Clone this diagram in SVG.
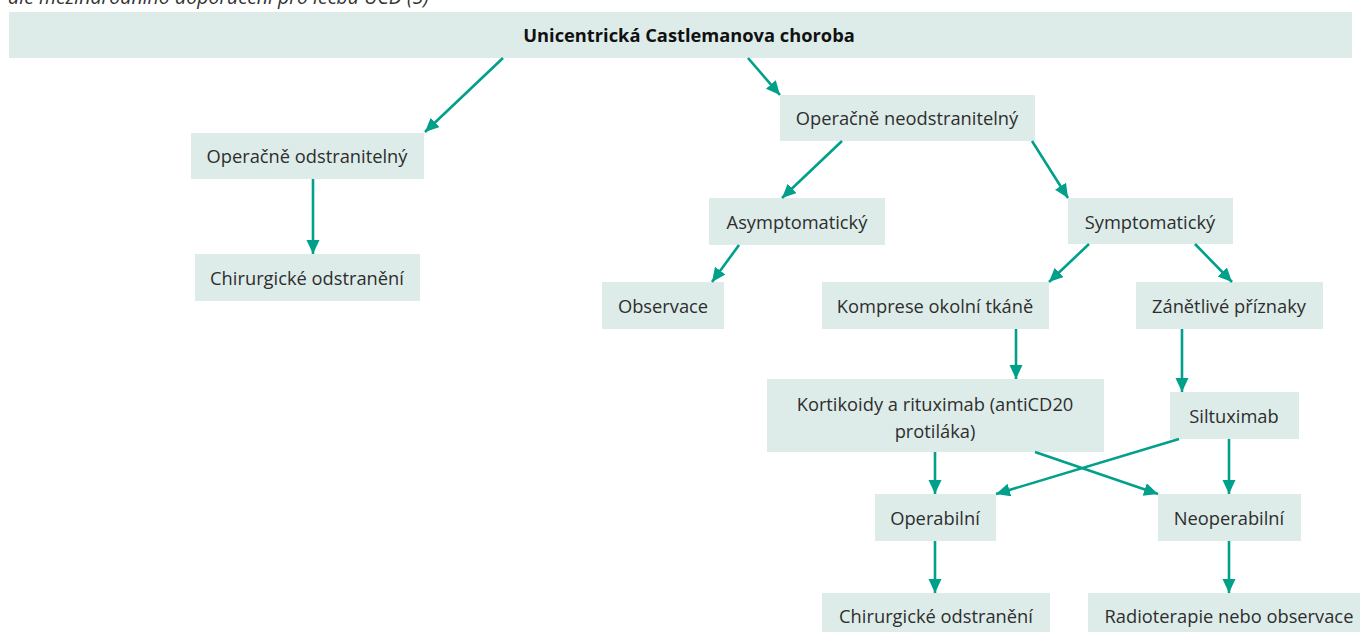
<svg xmlns="http://www.w3.org/2000/svg" width="1360" height="632" viewBox="0 0 1360 632">
<style>
.box{fill:#ddece9}
.t{font-family:"Open Sans","Noto Sans","Liberation Sans",sans-serif;font-size:18.3px;fill:#2e2e2e;text-anchor:middle}
.b{font-weight:bold;font-size:18.3px;fill:#111}
.cap{font-family:"Open Sans","Noto Sans","Liberation Sans",sans-serif;font-size:19.5px;font-style:italic;fill:#333}
.c line{stroke:#00a08a;stroke-width:2.6;marker-end:url(#ah)}
</style>
<defs>
<marker id="ah" markerUnits="userSpaceOnUse" markerWidth="16" markerHeight="14" refX="14" refY="6.5" orient="auto">
<path d="M0,0 L14,6.5 L0,13 z" fill="#00a08a"/>
</marker>
</defs>
<rect width="1360" height="632" fill="#fff"/>
<text class="cap" x="8" y="4">dle mezinárodního doporučení pro léčbu UCD (5)</text>
<g id="n-root"><rect class="box" x="9" y="12" width="1343" height="46"/><text class="t b" x="689" y="42">Unicentrická Castlemanova choroba</text></g>
<g id="n-odstr"><rect class="box" x="191" y="133" width="233" height="46"/><text class="t" x="307" y="163">Operačně odstranitelný</text></g>
<g id="n-chir1"><rect class="box" x="195" y="254" width="225" height="47"/><text class="t" x="307" y="285">Chirurgické odstranění</text></g>
<g id="n-neodstr"><rect class="box" x="780" y="95" width="255" height="46"/><text class="t" x="907" y="125">Operačně neodstranitelný</text></g>
<g id="n-asym"><rect class="box" x="709" y="198" width="176" height="47"/><text class="t" x="797" y="229">Asymptomatický</text></g>
<g id="n-sym"><rect class="box" x="1068" y="198" width="165" height="46"/><text class="t" x="1150" y="229">Symptomatický</text></g>
<g id="n-obs"><rect class="box" x="602" y="282" width="122" height="47"/><text class="t" x="663" y="313">Observace</text></g>
<g id="n-komp"><rect class="box" x="822" y="282" width="227" height="47"/><text class="t" x="935" y="313">Komprese okolní tkáně</text></g>
<g id="n-zan"><rect class="box" x="1136" y="282" width="187" height="47"/><text class="t" x="1229" y="313">Zánětlivé příznaky</text></g>
<g id="n-kort"><rect class="box" x="767" y="379" width="337" height="73"/><text class="t" x="935" y="411">Kortikoidy a rituximab (antiCD20</text><text class="t" x="935" y="438">protiláka)</text></g>
<g id="n-silt"><rect class="box" x="1170" y="392" width="129" height="47"/><text class="t" x="1234" y="423">Siltuximab</text></g>
<g id="n-oper"><rect class="box" x="875" y="494" width="121" height="47"/><text class="t" x="935" y="525">Operabilní</text></g>
<g id="n-neoper"><rect class="box" x="1158" y="494" width="143" height="47"/><text class="t" x="1229" y="525">Neoperabilní</text></g>
<g id="n-chir2"><rect class="box" x="822" y="593" width="228" height="39"/><text class="t" x="936" y="623">Chirurgické odstranění</text></g>
<g id="n-radio"><rect class="box" x="1088" y="593" width="272" height="39"/><text class="t" x="1229" y="623">Radioterapie nebo observace</text></g>
<g id="connectors" class="c">
<line x1="503" y1="58" x2="425" y2="132"/>
<line x1="748" y1="58" x2="780" y2="95"/>
<line x1="313" y1="179" x2="313" y2="254"/>
<line x1="842" y1="141" x2="782" y2="198"/>
<line x1="1032" y1="141" x2="1068" y2="198"/>
<line x1="739" y1="245" x2="712" y2="282"/>
<line x1="1089" y1="244" x2="1049" y2="282"/>
<line x1="1195" y1="244" x2="1232" y2="282"/>
<line x1="1016" y1="329" x2="1016" y2="379"/>
<line x1="1182" y1="329" x2="1182" y2="392"/>
<line x1="935" y1="452" x2="935" y2="494"/>
<line x1="1035" y1="452" x2="1158" y2="494"/>
<line x1="1179" y1="439" x2="996" y2="494"/>
<line x1="1229" y1="439" x2="1229" y2="494"/>
<line x1="935" y1="541" x2="935" y2="593"/>
<line x1="1229" y1="541" x2="1229" y2="593"/>
</g>
</svg>
